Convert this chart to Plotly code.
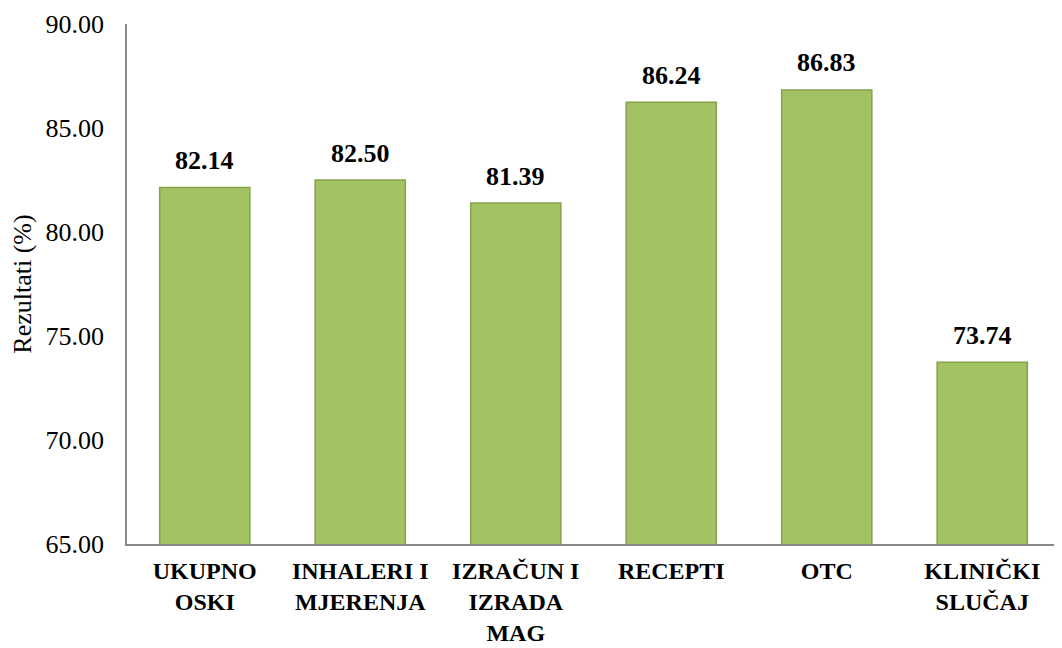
import plotly.graph_objects as go

# podaci
kategorije = ["UKUPNO<br>OSKI", "INHALERI I<br>MJERENJA", "IZRAČUN I<br>IZRADA<br>MAG",
              "RECEPTI", "OTC", "KLINIČKI<br>SLUČAJ"]
rezultati = [82.14, 82.50, 81.39, 86.24, 86.83, 73.74]
y_ticks = [65, 70, 75, 80, 85, 90]

SERIF = 'Liberation Serif, Times New Roman, serif'

fig = go.Figure()

fig.add_trace(go.Bar(
    x=kategorije,
    y=rezultati,
    marker=dict(color='#A3C264', line=dict(color='#86A24C', width=1.5)),
    width=0.58,
    hoverinfo='x+y',
))

# oznake vrijednosti iznad stupaca
for k, v in zip(kategorije, rezultati):
    fig.add_annotation(
        x=k, y=v, text=f"<b>{v:.2f}</b>", showarrow=False,
        yshift=27, font=dict(family=SERIF, size=26, color='black'),
    )

# stranica ima 8px margine tijela, pa je figura malo manja
fig.update_layout(
    width=1054,
    height=640,
    paper_bgcolor='white',
    plot_bgcolor='white',
    font=dict(family=SERIF, color='black'),
    showlegend=False,
    margin=dict(l=119, r=2, t=16, b=104),
    xaxis=dict(
        showline=True, linecolor='#888888', linewidth=1.5,
        showgrid=False, ticks='',
        tickfont=dict(family=SERIF, size=24, color='black'),
        ticklabelstandoff=4,
        tickprefix='<b>', ticksuffix='</b>',
        automargin=False,
    ),
    yaxis=dict(
        range=[65, 90],
        tickvals=y_ticks,
        ticktext=[f"{v:.2f}" for v in y_ticks],
        showline=True, linecolor='#888888', linewidth=1.5,
        showgrid=False, ticks='', zeroline=False,
        tickfont=dict(family=SERIF, size=26, color='black'),
        ticklabelstandoff=16,
        automargin=False,
        title=dict(text='Rezultati (%)', font=dict(family=SERIF, size=26, color='black'),
                   standoff=8),
    ),
)

fig.write_html("out.html")
